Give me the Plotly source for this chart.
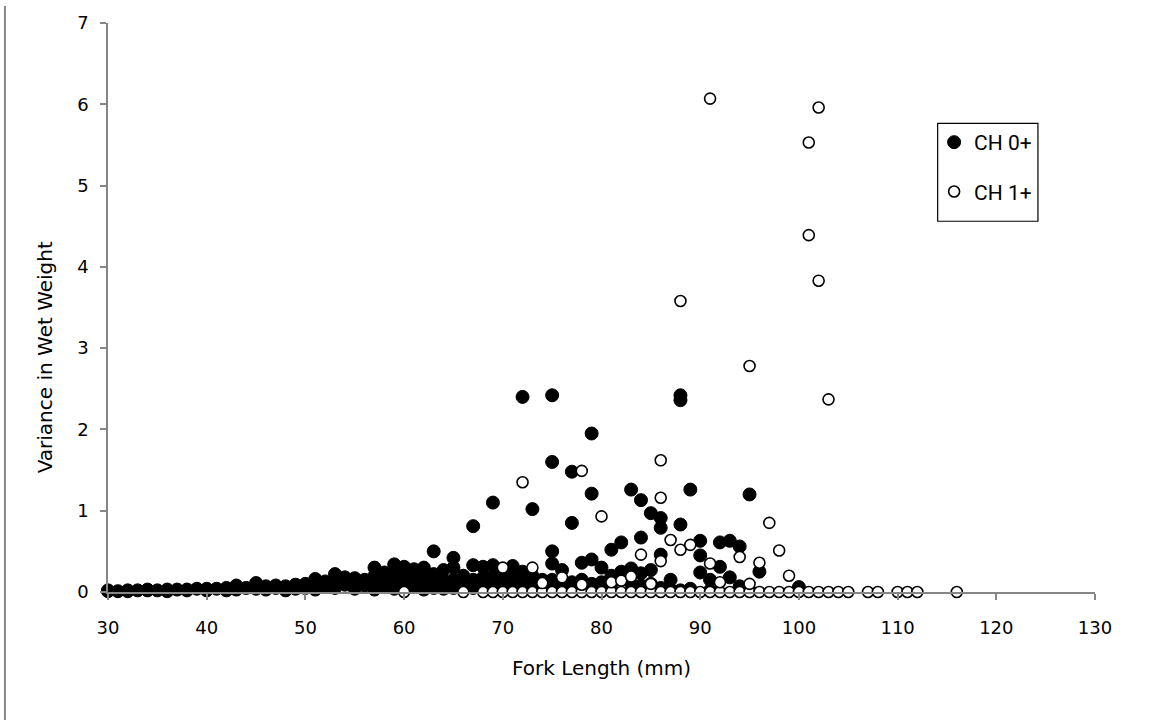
import plotly.graph_objects as go

# CH 0+ (filled) : fork length (mm) and variance in wet weight
ch0_x = [30, 30, 31, 32, 32, 33, 34, 34, 35, 36, 36, 37, 38, 38, 39, 40, 40, 41, 42, 42,
         43, 43, 44, 45, 45, 46, 46, 47, 47, 48, 48, 49, 49, 50, 50, 51, 51, 51, 52, 52,
         53, 53, 53, 54, 54, 55, 55, 55, 56, 56, 57, 57, 57, 57, 58, 58, 58, 59, 59, 59, 59,
         60, 60, 60, 60, 61, 61, 61, 62, 62, 62, 62, 63, 63, 63, 63, 64, 64, 64,
         65, 65, 65, 65, 66, 66, 66, 67, 67, 67, 67, 68, 68, 68, 69, 69, 69, 69,
         70, 70, 70, 71, 71, 71, 72, 72, 72, 72, 73, 73, 73, 74, 74,
         75, 75, 75, 75, 75, 75, 76, 76, 77, 77, 77, 77, 78, 78, 79, 79, 79, 79,
         80, 80, 80, 81, 81, 81, 82, 82, 83, 83, 83, 84, 84, 84, 84, 85, 85, 85,
         86, 86, 86, 86, 87, 87, 88, 88, 88, 88, 89, 89, 90, 90, 90, 91, 91,
         92, 92, 93, 93, 94, 94, 95, 95, 96, 100]
ch0_y = [0.01, 0.02, 0.01, 0.01, 0.02, 0.02, 0.02, 0.03, 0.02, 0.03, 0.01, 0.03, 0.03, 0.02, 0.04, 0.04, 0.02, 0.04, 0.05, 0.02,
         0.08, 0.03, 0.05, 0.11, 0.04, 0.07, 0.03, 0.08, 0.05, 0.07, 0.02, 0.09, 0.04, 0.10, 0.05, 0.16, 0.08, 0.03, 0.13, 0.06,
         0.22, 0.12, 0.05, 0.18, 0.09, 0.17, 0.10, 0.04, 0.15, 0.08, 0.30, 0.20, 0.10, 0.03, 0.24, 0.14, 0.06, 0.34, 0.22, 0.12, 0.04,
         0.31, 0.18, 0.08, 0.02, 0.28, 0.16, 0.07, 0.30, 0.20, 0.10, 0.03, 0.50, 0.22, 0.12, 0.05, 0.27, 0.14, 0.04,
         0.42, 0.30, 0.15, 0.05, 0.20, 0.10, 0.03, 0.81, 0.33, 0.15, 0.05, 0.31, 0.18, 0.06, 1.10, 0.33, 0.20, 0.08,
         0.25, 0.12, 0.04, 0.32, 0.18, 0.06, 2.40, 0.25, 0.12, 0.04, 1.02, 0.20, 0.08, 0.15, 0.05,
         2.42, 1.60, 0.50, 0.35, 0.15, 0.05, 0.27, 0.10, 1.48, 0.85, 0.12, 0.04, 0.36, 0.15, 1.95, 1.21, 0.40, 0.10,
         0.30, 0.12, 0.03, 0.52, 0.20, 0.05, 0.61, 0.25, 1.26, 0.29, 0.10, 1.13, 0.67, 0.23, 0.08, 0.97, 0.27, 0.10,
         0.91, 0.79, 0.46, 0.05, 0.15, 0.03, 2.42, 2.36, 0.83, 0.02, 1.26, 0.04, 0.63, 0.45, 0.24, 0.15, 0.02,
         0.61, 0.31, 0.63, 0.18, 0.56, 0.07, 1.20, 0.02, 0.25, 0.06]

# CH 1+ (open)
ch1_x = [60, 66, 68, 69, 70, 71, 72, 73, 74, 75, 76, 77, 78, 79, 80, 81, 82, 83, 84, 85, 86, 87, 88,
         89, 90, 91, 92, 93, 94, 95, 96, 97, 98, 99, 100, 101, 102, 103, 104, 105, 107, 108, 110, 111, 112, 116,
         70, 72, 73, 74, 76, 78, 78, 80, 81, 82, 83, 84, 85, 86, 86, 86, 87, 88, 88, 89,
         91, 91, 92, 94, 95, 95, 96, 97, 98, 99, 101, 101, 102, 102, 103]
ch1_y = [0.0] * 46 + [
         0.30, 1.35, 0.30, 0.11, 0.18, 1.49, 0.09, 0.93, 0.12, 0.14, 0.19, 0.46, 0.10, 1.62, 1.16, 0.38, 0.64, 3.58, 0.52, 0.58,
         6.07, 0.35, 0.12, 0.43, 2.78, 0.10, 0.36, 0.85, 0.51, 0.20, 5.53, 4.39, 5.96, 3.83, 2.37]

x_ticks = [30, 40, 50, 60, 70, 80, 90, 100, 110, 120, 130]
y_ticks = [0, 1, 2, 3, 4, 5, 6, 7]

AX = "#868686"
FONT = "DejaVu Sans"

fig = go.Figure()
fig.add_trace(go.Scatter(
    x=ch0_x, y=ch0_y, mode="markers", name="CH 0+", legendgroup="a",
    marker=dict(symbol="circle", size=13, color="black", line=dict(color="black", width=1)),
    cliponaxis=False))
fig.add_trace(go.Scatter(
    x=ch1_x, y=ch1_y, mode="markers", name="CH 1+", legendgroup="b",
    marker=dict(symbol="circle", size=11, color="white", line=dict(color="black", width=1.6)),
    cliponaxis=False))

fig.update_layout(
    width=1151, height=720,
    margin=dict(l=108, r=56, t=15, b=128),
    paper_bgcolor="white", plot_bgcolor="white",
    font=dict(family=FONT, size=18, color="black"),
    showlegend=True,
    legend=dict(
        x=0.837, y=0.826, xanchor="left", yanchor="top",
        bgcolor="rgba(0,0,0,0)", borderwidth=0,
        font=dict(family="Roboto", size=21, color="black"),
        tracegroupgap=19, traceorder="grouped", itemwidth=30,
    ),
    xaxis=dict(
        range=[30, 130], tickvals=x_ticks, showgrid=False, zeroline=False,
        showline=True, linecolor=AX, linewidth=1.5,
        ticks="outside", ticklen=6, tickcolor=AX, tickwidth=1.5,
        ticklabelstandoff=13,
        tickfont=dict(family=FONT, size=18),
        title=dict(text="Fork Length (mm)", font=dict(family=FONT, size=20), standoff=24),
    ),
    yaxis=dict(
        range=[0, 7], tickvals=y_ticks, showgrid=False, zeroline=False,
        showline=True, linecolor=AX, linewidth=1.5,
        ticks="outside", ticklen=6, tickcolor=AX, tickwidth=1.5,
        ticklabelstandoff=8,
        tickfont=dict(family=FONT, size=18),
    ),
    annotations=[
        dict(text="Variance in Wet Weight", textangle=-90, showarrow=False,
             xref="paper", yref="paper", x=-0.0638, y=0.4125,
             xanchor="center", yanchor="middle",
             font=dict(family=FONT, size=20, color="black")),
    ],
    shapes=[
        dict(type="rect", xref="paper", yref="paper",
             x0=0.8406, x1=0.9422, y0=0.6516, y1=0.8237,
             line=dict(color="black", width=1.2), fillcolor="rgba(0,0,0,0)", layer="above"),
        dict(type="line", xref="paper", yref="paper",
             x0=-0.1044, x1=-0.1044, y0=-0.23, y1=1.03,
             line=dict(color="#888888", width=2)),
    ],
)

fig.write_html("out.html")
